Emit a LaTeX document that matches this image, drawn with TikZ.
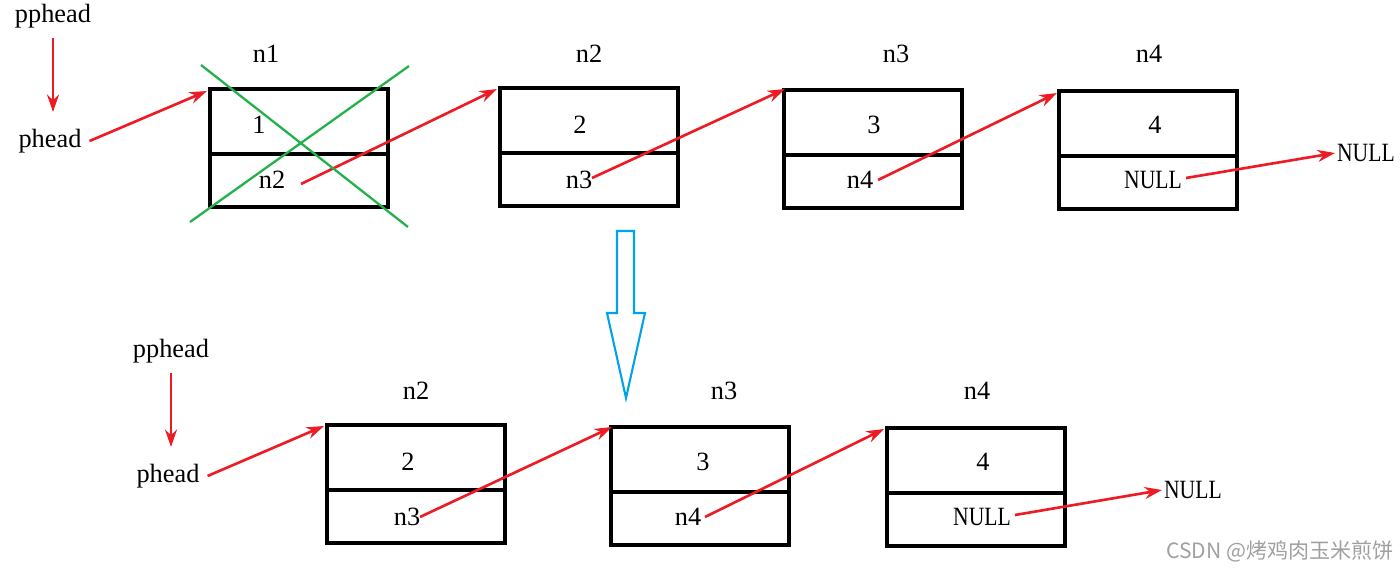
\documentclass[tikz,border=0pt]{standalone}
\usepackage{fontspec}
\setmainfont{Liberation Serif}
\newfontfamily\narrowserif[FakeStretch=0.82]{Liberation Serif}
\newfontfamily\cjkfont{Noto Sans CJK SC}
\usetikzlibrary{arrows.meta,positioning}
\definecolor{ptr}{RGB}{237,28,36}
\definecolor{cross}{RGB}{34,177,76}
\definecolor{flow}{RGB}{0,162,232}
\definecolor{wmark}{RGB}{160,160,160}
\tikzset{
  cell/.style={draw,line width=2pt,minimum width=3.56cm,inner sep=0pt,outer sep=0pt,anchor=north west},
  valcell/.style={cell,minimum height=1.3cm},
  nextcell/.style={cell,minimum height=1.06cm,anchor=north},
  txt/.style={font=\fontsize{15}{17}\selectfont,inner sep=1pt},
  nulltxt/.style={font=\narrowserif\fontsize{15}{17}\selectfont,inner sep=1pt},
  link/.style={ptr,line width=1.5pt,-{Stealth[length=3.5mm,width=2.4mm]}},
}

\begin{document}
\begin{tikzpicture}[x=0.02cm,y=-0.02cm]
  \useasboundingbox (0,0) rectangle (1400,571);
  % ---- before: list with n1 at the head
  \node[txt] (pp) at (53,16) {pphead};
  \node[txt] (ph) at (50,141) {phead};
  \draw[link] (pp.south) ++(0,8) -- (53,112);
  \node[valcell] (v1) at (210,89) {};
  \node[nextcell] (p1) at (v1.south) {};
  \node[valcell] (v2) at (500,88) {};
  \node[nextcell] (p2) at (v2.south) {};
  \node[valcell] (v3) at (784,90) {};
  \node[nextcell] (p3) at (v3.south) {};
  \node[valcell] (v4) at (1059,91) {};
  \node[nextcell] (p4) at (v4.south) {};
  \node[txt] (l1) at (266,54) {n1};
  \node[txt] (l2) at (589,54) {n2};
  \node[txt] (l3) at (896,54) {n3};
  \node[txt] (l4) at (1149,54) {n4};
  \node[txt] (d1) at (259,125) {1};
  \node[txt] (d2) at (580,125) {2};
  \node[txt] (d3) at (874,125) {3};
  \node[txt] (d4) at (1155,125) {4};
  \node[txt] (n1) at (272,180) {n2};
  \node[txt] (n2) at (579,180) {n3};
  \node[txt] (n3) at (860,180) {n4};
  \node[nulltxt] (n4) at (1153,180) {NULL};
  \node[nulltxt,anchor=west] (nul) at (1335,153) {NULL};
  \coordinate (s1) at (301,184);
  \coordinate (s2) at (592,178);
  \coordinate (s3) at (878,180);
  \coordinate (s4) at (1186,178);
  \draw[link] (ph.east) ++(6,0) -- ([shift={(-3,2)}]v1.north west);
  \draw[link] (s1) -- ([shift={(-3,1)}]v2.north west);
  \draw[link] (s2) -- ([shift={(1,-1)}]v3.north west);
  \draw[link] (s3) -- ([shift={(-2,2)}]v4.north west);
  \draw[link] (s4) -- (nul.west);
  % n1 is freed
  \draw[cross,line width=1.3pt] (201,65) -- (408,227);
  \draw[cross,line width=1.3pt] (190,222) -- (409,66);
  % ---- hollow arrow
  \draw[flow,line width=1.2pt] (617,231) -- (634,231) -- (634,313) -- (645,313)
    -- (626,398) -- (607,313) -- (617,313) -- cycle;
  % ---- after: n2 is the new head
  \node[txt] (bpp) at (171,351) {pphead};
  \node[txt] (bph) at (168,476) {phead};
  \draw[link] (bpp.south) ++(0,8) -- (171,447);
  \node[valcell] (bv2) at (327,425) {};
  \node[nextcell] (bp2) at (bv2.south) {};
  \node[valcell] (bv3) at (611,427) {};
  \node[nextcell] (bp3) at (bv3.south) {};
  \node[valcell] (bv4) at (887,428) {};
  \node[nextcell] (bp4) at (bv4.south) {};
  \node[txt] (bl2) at (416,391) {n2};
  \node[txt] (bl3) at (724,391) {n3};
  \node[txt] (bl4) at (977,391) {n4};
  \node[txt] (bd2) at (408,462) {2};
  \node[txt] (bd3) at (703,462) {3};
  \node[txt] (bd4) at (983,462) {4};
  \node[txt] (bn2) at (407,517) {n3};
  \node[txt] (bn3) at (688,517) {n4};
  \node[nulltxt] (bn4) at (982,517) {NULL};
  \node[nulltxt,anchor=west] (bnul) at (1162,490) {NULL};
  \coordinate (bs2) at (420,517);
  \coordinate (bs3) at (705,517);
  \coordinate (bs4) at (1015,515);
  \draw[link] (bph.east) ++(6,0) -- ([shift={(-3,1)}]bv2.north west);
  \draw[link] (bs2) -- ([shift={(1,0)}]bv3.north west);
  \draw[link] (bs3) -- ([shift={(-3,1)}]bv4.north west);
  \draw[link] (bs4) -- (bnul.west);
  % watermark
  \node[wmark,font=\cjkfont\fontsize{12}{14}\selectfont,inner sep=0pt] (wm) at (1280,551) {CSDN @烤鸡肉玉米煎饼};
\end{tikzpicture}
\end{document}
